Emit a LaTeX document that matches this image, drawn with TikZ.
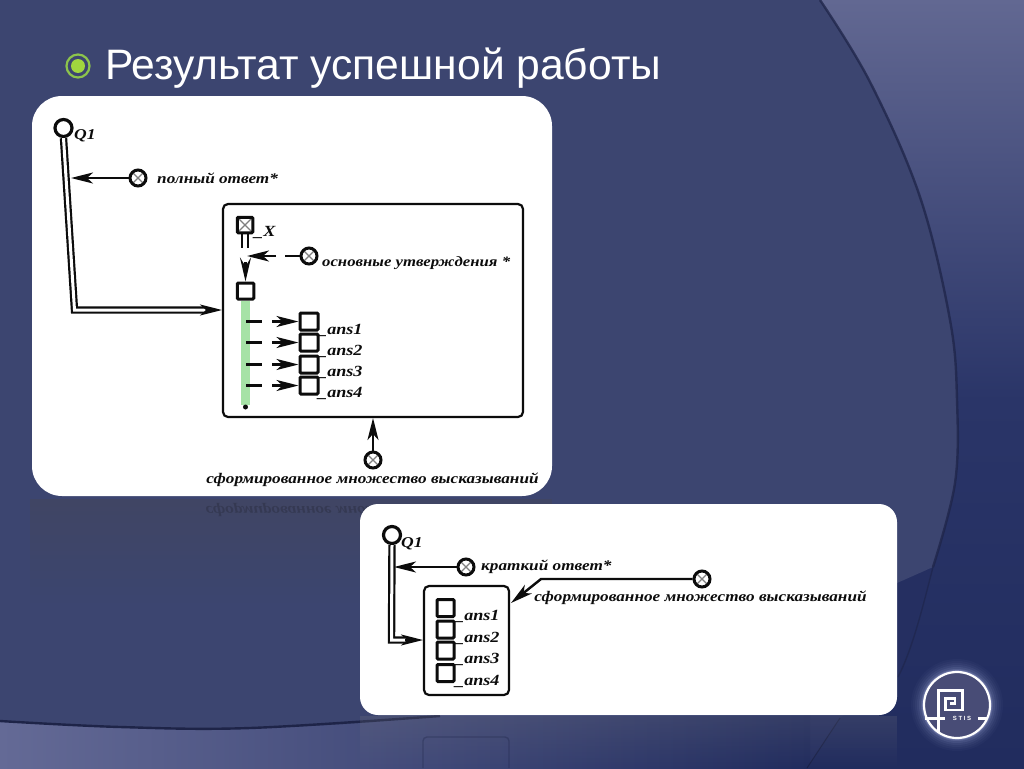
\documentclass[tikz,border=0pt]{standalone}
\usepackage{fontspec}
\setmainfont{Liberation Sans}
\newfontfamily\diagfont[FakeStretch=1.17]{Liberation Serif}
\usetikzlibrary{arrows.meta}
\definecolor{mainbg}{HTML}{3C4570}
\definecolor{ink}{HTML}{0C0C0C}
\definecolor{rtop}{RGB}{98,104,146}
\definecolor{rmid}{RGB}{42,53,104}
\definecolor{rbot}{RGB}{33,44,94}
\definecolor{bandl}{RGB}{100,106,150}
\definecolor{lowdark}{RGB}{37,47,97}
\definecolor{edge}{RGB}{30,36,72}
\definecolor{edgeb}{RGB}{24,30,64}
\definecolor{refla}{RGB}{72,70,80}
\definecolor{reflb}{RGB}{120,120,130}
\definecolor{bulleta}{RGB}{140,196,76}
\definecolor{bulletb}{RGB}{160,214,62}
\definecolor{greenbar}{RGB}{166,226,166}
\definecolor{glow}{RGB}{170,178,225}
\definecolor{logofill}{RGB}{72,76,118}
\tikzset{
  x=1pt,y=-1pt,
  diaglabel/.style={font=\diagfont\bfseries\itshape\fontsize{14.7}{15}\selectfont,text=ink,inner sep=0pt,anchor=west},
  anslabel/.style={font=\diagfont\bfseries\itshape\fontsize{15.5}{16}\selectfont,text=ink,inner sep=0pt,anchor=west},
  card/.style={fill=white,rounded corners=#1},
  innerbox/.style={draw=ink,line width=2.2pt,rounded corners=5pt,fill=white},
  sqnode/.style={draw=ink,line width=3pt,rounded corners=1pt,minimum width=16.5pt,minimum height=16pt,inner sep=0pt,fill=white},
  crossnode/.style={circle,draw=ink,line width=3pt,minimum size=16pt,inner sep=0pt,fill=white,
    path picture={\draw[gray,line width=1.2pt]
      (path picture bounding box.north west)--(path picture bounding box.south east)
      (path picture bounding box.north east)--(path picture bounding box.south west);}},
  ringnode/.style={circle,draw=ink,line width=3.2pt,minimum size=17pt,inner sep=0pt,fill=white},
  tipline/.style={draw=ink,line width=2.4pt,-{Stealth[length=22pt,width=11pt,inset=6pt]}},
  plainline/.style={draw=ink,line width=2.4pt},
  dbl/.style={draw=ink,line width=2.2pt,double=white,double distance=3pt,line join=miter},
}
\newcommand{\rightedge}{(820,0)(870,82)(920,197)(950,320)(957,400)(955,483)(933,567)}
\newcommand{\loweredge}{(933,567)(897,583)(700,670)(430,716)(250,728)(120,727)(0,721)}
\begin{document}
\begin{tikzpicture}
\useasboundingbox (0,0) rectangle (1024,768);
% ---------- background
\shade[top color=rtop,bottom color=rmid] (500,0) rectangle (1024,400);
\shade[top color=rmid,bottom color=rbot] (500,400) rectangle (1024,768);
\fill[lowdark] (820,560) -- (933,567) -- (898,677) -- (840,718) -- (807,768) -- (500,768) -- (500,700) -- cycle;
\shade[left color=bandl,right color=rbot] (0,700) rectangle (810,768);
\fill[mainbg] plot[smooth,tension=.6] coordinates {\rightedge} -- plot[smooth,tension=.6] coordinates {\loweredge} -- (0,0) -- cycle;
\draw[edge,line width=2.4pt,opacity=.75] plot[smooth,tension=.6] coordinates {\rightedge};
\draw[edge,line width=1.4pt,opacity=.6] (933,567) .. controls (922,610) and (912,650) .. (898,677);
\draw[edgeb,line width=1pt,opacity=.7] (840,718) -- (807,768);
\draw[edge,line width=2.4pt] plot[smooth,tension=.6] coordinates {(440,716)(250,728)(120,727)(0,721)};
% ---------- reflections
\foreach \i in {0,...,25}{
  \pgfmathsetmacro{\op}{0.36*(1-\i/26)}
  \fill[refla,fill opacity=\op] (30,{499+4*\i}) rectangle (552,{503+4*\i});
  \pgfmathsetmacro{\opb}{0.22*(1-\i/26)}
  \fill[reflb,fill opacity=\opb] (360,{716+2*\i}) rectangle (897,{718+2*\i});
}
\node[diaglabel,yscale=-1,opacity=.2,anchor=center] (mirrortext) at (372,510) {сформированное множество высказываний};
\draw[edgeb,line width=1.4pt,opacity=.3,rounded corners=4pt] (423,768) -- (423,737) -- (509,737) -- (509,768);
% ---------- title
\node[circle,draw=bulleta,line width=2.2pt,minimum size=23pt,inner sep=0pt] (bulletring) at (78,66) {};
\node[circle,fill=bulletb,minimum size=14pt,inner sep=0pt] (bulletdot) at (78,66) {};
\node[font=\fontsize{42.6}{44}\selectfont,text=white,anchor=base west,inner sep=0pt] (title) at (105,79) {Результат успешной работы};
% ---------- card 1
\fill[card=30pt] (32,96) rectangle (552,496);
\draw[innerbox] (223,204) rectangle (523,417);
\coordinate (boxa) at (222,310);
\coordinate (boxabot) at (373,418);
\node[ringnode] (qa) at (63.5,128) {};
\node[diaglabel,font=\diagfont\bfseries\itshape\fontsize{15}{15}\selectfont] (qalab) at (74,136) {Q1};
\coordinate (qaelbow) at (74.5,310);
\coordinate (qaend) at (206,310);
\draw[dbl] (qa.south) -- (qaelbow) -- (qaend);
\draw[tipline] (qaend) -- (boxa);
\node[crossnode] (pf) at (138,178) {};
\coordinate (pfend) at (71,178);
\draw[tipline] (pf) -- (pfend);
\node[diaglabel] (pflab) at (157,178) {полный ответ*};
\node[sqnode,minimum width=15.5pt,minimum height=15.5pt,path picture={\draw[gray,line width=1.2pt]
  (path picture bounding box.north west)--(path picture bounding box.south east)
  (path picture bounding box.north east)--(path picture bounding box.south west);}] (xn) at (245,225) {};
\node[anslabel] (xlab) at (254,233) {\_X};
\draw[draw=ink,line width=2.2pt] (xn.south) ++(-2.8,0) -- ++(0,14);
\draw[draw=ink,line width=2.2pt] (xn.south) ++(2.8,0) -- ++(0,14);
\node[sqnode] (sa) at (245.5,291) {};
\coordinate (xtail) at (245.5,262);
\draw[draw=ink,line width=2.4pt,-{Stealth[length=24pt,width=11pt,inset=9pt]}] (xtail) -- (sa.north);
\node[crossnode] (ou) at (309,256) {};
\coordinate (oumid) at (285,256);
\coordinate (ouend) at (276,256);
\coordinate (outip) at (247,256);
\draw[plainline] (ou) -- (oumid);
\draw[tipline] (ouend) -- (outip);
\node[diaglabel,font=\diagfont\bfseries\itshape\fontsize{14.3}{15}\selectfont] (oulab) at (322,263) {основные утверждения *};
\coordinate (barend) at (245.5,405);
\draw[greenbar,line width=8.5pt] (sa.south) -- (barend);
\fill[ink] (245.5,407) circle (2.5);
\foreach \n/\y in {1/321.5,2/342.5,3/364.5,4/385.5}{
  \node[sqnode,minimum width=18pt,minimum height=17pt] (a\n) at (309,\y) {};
  \coordinate (bara\n) at (246,\y);
  \coordinate (barb\n) at (262,\y);
  \coordinate (barc\n) at (272,\y);
  \draw[plainline] (bara\n) -- (barb\n);
  \draw[tipline] (barc\n) -- (a\n.west);
}
\node[anslabel] (al1) at (318,330) {\_ans1};
\node[anslabel] (al2) at (318,351) {\_ans2};
\node[anslabel] (al3) at (318,372) {\_ans3};
\node[anslabel] (al4) at (318,393) {\_ans4};
\node[crossnode] (sf) at (373,460) {};
\draw[tipline] (sf) -- (boxabot);
\node[diaglabel,anchor=center] (sflab) at (372.5,480) {сформированное множество высказываний};
% ---------- card 2
\fill[card=18pt] (360,504) rectangle (897,715);
\draw[innerbox] (424,586) rectangle (509,695);
\coordinate (boxb) at (423,640);
\node[ringnode] (qb) at (392,535) {};
\node[diaglabel,font=\diagfont\bfseries\itshape\fontsize{15}{15}\selectfont] (qblab) at (401,544) {Q1};
\coordinate (qbelbow) at (391.5,640);
\coordinate (qbend) at (405,640);
\draw[dbl] (qb.south) -- (qbelbow) -- (qbend);
\draw[tipline] (qbend) -- (boxb);
\node[crossnode] (kr) at (466,567) {};
\coordinate (krend) at (394,567);
\draw[tipline] (kr) -- (krend);
\node[diaglabel] (krlab) at (481,567) {краткий ответ*};
\foreach \n/\y in {1/608,2/629.5,3/650.5,4/673}{
  \node[sqnode,minimum width=17pt,minimum height=17pt] (b\n) at (445.5,\y) {};
}
\node[anslabel] (bl1) at (455,616) {\_ans1};
\node[anslabel] (bl2) at (455,638) {\_ans2};
\node[anslabel] (bl3) at (455,659) {\_ans3};
\node[anslabel] (bl4) at (455,681) {\_ans4};
\node[crossnode] (sg) at (702,579) {};
\coordinate (sgel) at (541,579);
\coordinate (sgend) at (511,603);
\draw[tipline] (sg) -- (sgel) -- (sgend);
\node[diaglabel,anchor=center] (sglab) at (700.5,598) {сформированное множество высказываний};
% ---------- logo
\foreach \r/\o in {92/.03,88/.04,84/.05,80/.07,76/.1,72/.16,70/.25}{
  \node[circle,fill=glow,fill opacity=\o,minimum size=\r pt,inner sep=0pt] at (957,705) {};
}
\node[circle,draw=white,line width=2.2pt,fill=logofill,minimum size=66pt,inner sep=0pt] (logo) at (957,705) {};
\draw[white,line width=2.2pt,line join=miter] (925,718.5) -- (945,718.5);
\draw[white,line width=2.2pt,line join=miter] (938.5,733) -- (938.5,690.5) -- (962.5,690.5) -- (962.5,710) -- (945.5,710) -- (945.5,698.5) -- (955,698.5) -- (955,703.5) -- (950,703.5);
\draw[white,line width=2.2pt] (978,718.5) -- (987,718.5);
\node[text=white,font=\bfseries\fontsize{6}{6}\selectfont,inner sep=0pt] (stis) at (962,718.5) {S T I S};
\end{tikzpicture}
\end{document}
